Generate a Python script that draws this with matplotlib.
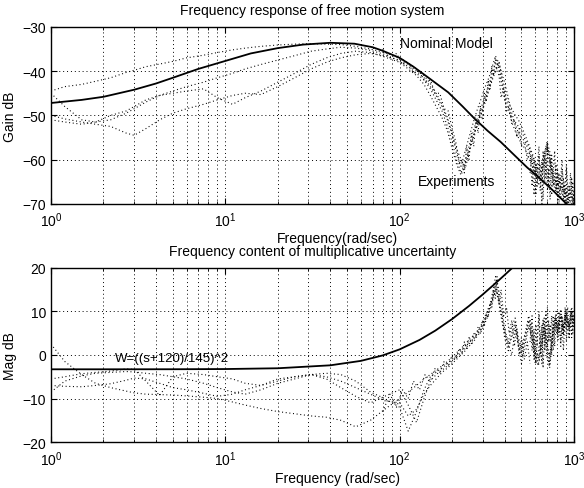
#!/usr/bin/env python

import numpy as np
import matplotlib
matplotlib.use('Agg')
import matplotlib.pyplot as plt
from matplotlib.ticker import LogLocator, NullFormatter

plt.rcParams['font.family'] = ['Liberation Sans', 'DejaVu Sans']
plt.rcParams['mathtext.fontset'] = 'custom'
plt.rcParams['mathtext.rm'] = 'Liberation Sans'
fs = 10

# frequency grid (rad/sec) shared by the measured traces
FREQ = [1.0, 1.2, 1.5, 1.8, 2.2, 2.7, 3.0, 3.5, 4.2, 5.0, 6.0, 7.5, 9.0, 11, 13, 16,
        20, 25, 31, 38, 46, 56, 68, 82,
        100, 112, 125, 138, 150, 162, 175, 188, 200, 212,
        225, 238, 250, 265, 280, 295, 310, 325, 340, 355,
        370, 385, 400, 420, 440, 460, 480, 500, 525, 550,
        575, 600, 625, 650, 675, 700, 725, 750, 780, 810,
        840, 870, 900, 935, 970, 1000]

# measured gain (dB), four experiments
GAIN_1 = [-44.5, -43.5, -43.0, -42.3, -41.5, -40.3, -39.8, -39.0, -38.4, -37.8, -37.0, -36.4,
          -35.8, -35.2, -34.8, -34.4, -34.1, -33.9, -33.8, -33.9, -34.0, -34.4, -35.0, -35.8,
          -37.0, -38.2, -39.5, -41.0, -42.8, -45.0, -47.5, -50.5, -54.0, -58.5,
          -61.5, -58.0, -55.0, -51.5, -48.5, -46.0, -43.5, -41.5, -39.0, -36.5,
          -39.5, -43.0, -46.5, -49.0, -50.5, -51.5, -52.5, -53.5, -55.5, -57.0,
          -59.0, -61.0, -63.5, -62.0, -60.0, -57.5, -60.5, -64.0, -67.0, -65.0,
          -68.5, -66.0, -69.5, -67.5, -70.0, -69.0]
GAIN_2 = [-45.0, -48.0, -51.0, -51.5, -51.0, -49.5, -48.5, -47.0, -45.5, -44.5, -43.5, -42.5,
          -41.5, -40.5, -39.5, -38.5, -37.5, -36.5, -35.5, -35.0, -34.6, -34.8, -35.3, -36.2,
          -37.8, -39.0, -40.5, -42.0, -44.0, -46.5, -49.0, -52.5, -56.0, -60.0,
          -63.0, -60.5, -57.0, -53.5, -50.5, -48.0, -45.5, -43.0, -40.5, -38.0,
          -37.5, -41.0, -44.5, -47.0, -48.5, -50.0, -51.0, -52.5, -54.5, -56.5,
          -58.5, -60.5, -62.5, -61.0, -58.5, -56.5, -59.5, -62.5, -65.5, -63.5,
          -66.5, -64.5, -68.0, -66.0, -69.0, -68.0]
GAIN_3 = [-50.0, -50.8, -51.5, -52.0, -52.5, -54.0, -54.5, -53.0, -51.0, -49.5, -48.5, -47.5,
          -46.5, -45.5, -45.0, -45.3, -43.5, -41.5, -39.5, -38.0, -37.0, -36.3, -36.0, -36.5,
          -37.5, -38.5, -40.0, -41.5, -43.5, -45.5, -48.0, -51.0, -54.5, -57.5,
          -60.0, -62.0, -58.5, -55.0, -51.5, -49.0, -46.5, -44.0, -41.5, -39.5,
          -38.0, -40.5, -42.5, -46.0, -49.5, -52.0, -54.0, -55.0, -56.0, -58.0,
          -60.5, -62.5, -64.5, -63.0, -59.0, -56.0, -58.0, -61.5, -64.5, -66.0,
          -64.0, -67.5, -66.5, -69.5, -68.0, -70.0]
GAIN_4 = [-51.0, -51.5, -52.0, -51.5, -50.0, -49.0, -48.0, -46.5, -45.5, -45.0, -44.5, -44.0,
          -46.0, -47.5, -46.0, -44.5, -42.5, -40.5, -38.5, -37.0, -36.0, -35.5, -35.8, -36.8,
          -38.0, -39.5, -41.0, -43.0, -45.5, -48.0, -50.5, -53.5, -57.5, -61.0,
          -63.5, -61.0, -58.0, -54.5, -52.0, -49.5, -47.0, -44.5, -42.0, -40.0,
          -38.5, -42.0, -45.5, -48.0, -51.5, -53.5, -55.0, -56.5, -57.5, -59.5,
          -61.5, -63.0, -65.5, -64.0, -60.5, -57.0, -59.0, -63.0, -66.0, -68.0,
          -66.0, -69.0, -67.5, -70.0, -69.0, -70.0]

# scattered samples around the resonance
RIDGE_F = [80, 88, 96, 104, 112, 120, 130, 140, 150, 160, 170, 180, 190, 200, 210, 220,
           228, 235, 242, 250, 258, 266, 274, 282, 290, 298, 306, 314, 322, 330, 338, 346,
           354, 362, 372, 382, 395, 410, 425, 440, 455, 470, 485, 500, 520, 540, 560]
GAIN_RIDGE = [-35, -37, -36, -38.5, -38, -40.5, -40, -42.5, -42, -45, -45, -48.5, -49, -53,
              -56, -61, -60, -63, -57, -60, -54, -57, -51, -54, -48, -51, -45, -47, -42, -44,
              -39, -41, -37, -40, -41, -46, -44, -49, -48, -52, -51, -55, -53, -57, -56, -60, -58]

# noisy high frequency samples
CLUSTER_F = [560, 575, 590, 605, 615, 630, 640, 655, 665, 680, 690, 705, 715, 730, 745, 760,
             775, 790, 805, 820, 840, 855, 870, 890, 905, 920, 940, 955, 970, 985, 1000]
GAIN_CLUSTER = [-58, -66, -60, -68, -62, -57, -67, -61, -69, -59, -64, -56, -66, -60, -68, -63,
                -58, -67, -62, -70, -64, -60, -69, -65, -62, -70, -66, -68, -64, -70, -67]
GAIN_CLUSTER_2 = [-63, -59, -68, -61, -66, -59, -63, -70, -58, -65, -60, -67, -62, -69, -59, -66,
                  -64, -61, -69, -63, -67, -62, -65, -70, -61, -66, -69, -63, -68, -65, -70]

# nominal model gain (dB)
NOM_FREQ = [1, 1.5, 2, 3, 4, 5, 7, 10, 14, 20, 28, 40, 55, 70, 80, 100, 120, 150, 190,
            230, 270, 320, 380, 450, 540, 620, 750, 880, 1000]
NOM_GAIN = [-47.2, -46.5, -45.8, -44.2, -42.8, -41.5, -39.5, -37.7, -36.0, -34.8, -34.0,
            -33.6, -33.8, -34.6, -35.4, -37.0, -39.0, -41.8, -44.8, -48.0, -50.8, -53.5,
            -56.0, -58.8, -61.8, -63.8, -66.8, -69.5, -71.5]

# multiplicative uncertainty (dB) for the same experiments
UNC_1 = [2.5, -1.5, -4.5, -6.5, -7.5, -8.3, -8.7, -9.0, -9.1, -9.2, -9.4, -9.7,
         -10.0, -10.8, -11.5, -12.3, -13.0, -13.5, -14.0, -14.3, -15.0, -16.5, -15.0, -12.5,
         -10.0, -8.5, -7.0, -5.5, -4.5, -3.5, -2.5, -1.5, -0.5, 0.5,
         1.5, 2.5, 3.5, 4.5, 5.5, 7.0, 8.5, 10.0, 13.0, 17.0,
         12.0, 9.0, 4.0, 1.0, 5.0, 7.5, 3.0, 0.5, 4.5, 8.0,
         5.0, 2.0, -1.0, 3.0, 6.5, 2.0, 0.0, 4.0, 8.5, 5.5,
         9.5, 6.0, 10.0, 7.0, 11.0, 8.0]
UNC_2 = [-5.5, -5.0, -4.3, -4.0, -3.7, -3.2, -3.3, -6.0, -9.3, -5.0, -4.2, -4.5,
         -5.0, -5.5, -6.5, -7.0, -6.0, -5.0, -4.5, -5.5, -7.5, -9.5, -11.0, -9.5,
         -8.0, -11.5, -15.5, -10.0, -6.0, -4.5, -3.5, -2.5, -1.5, -0.5,
         0.5, 1.5, 2.5, 3.5, 5.0, 6.0, 8.0, 10.5, 14.0, 18.0,
         15.0, 11.0, 6.0, 3.0, 6.5, 8.5, 4.0, 1.5, 5.0, 9.0,
         6.0, -1.0, -2.5, 2.0, 7.0, 3.0, -1.5, 5.0, 9.0, 6.5,
         10.5, 4.5, 9.0, 6.0, 10.0, 7.5]
UNC_3 = [-7.0, -7.2, -7.3, -7.0, -6.6, -5.8, -5.3, -5.5, -6.5, -7.5, -8.0, -8.8,
         -9.5, -9.0, -8.0, -7.0, -5.5, -5.0, -4.5, -5.0, -6.0, -7.5, -9.0, -10.5,
         -11.0, -14.0, -12.5, -9.0, -7.0, -5.5, -4.0, -3.0, -2.0, -1.0,
         0.0, 1.0, 2.0, 3.0, 4.5, 5.5, 7.5, 9.5, 12.0, 15.0,
         12.5, 8.0, 5.0, 2.0, 4.0, 7.0, 2.5, -0.5, 3.5, 7.5,
         3.5, -2.0, 1.0, 5.5, 8.5, 1.0, -3.0, 2.5, 7.0, 3.5,
         8.5, 5.0, 9.5, 4.0, 9.0, 6.0]
UNC_4 = [-8.5, -6.0, -4.8, -4.2, -4.0, -3.8, -3.9, -4.2, -4.5, -5.0, -5.5, -6.5,
         -7.5, -8.5, -9.0, -8.0, -6.5, -5.5, -4.5, -4.2, -4.5, -6.0, -8.5, -10.0,
         -12.0, -17.5, -13.0, -8.0, -5.0, -4.0, -3.0, -2.0, -1.0, 0.0,
         1.0, 2.0, 3.0, 4.0, 5.0, 6.5, 9.0, 11.0, 12.5, 16.0,
         13.0, 9.5, 5.5, 2.5, 0.0, 6.0, 2.0, -2.0, 2.5, 6.5,
         4.0, 0.5, -2.0, 1.5, 5.5, -0.5, -2.5, 3.5, 8.0, 5.0,
         9.0, 7.0, 10.5, 6.5, 8.0, 9.5]
UNC_RIDGE = [-13, -9, -12, -8, -10, -6, -8, -4.5, -6, -3, -4, -1.5, -2.5, 0, -1, 1.5,
             0.5, 3, 1.5, 4, 2.5, 5, 4, 6.5, 5, 8, 6.5, 9.5, 8.5, 12, 11, 15,
             13, 18, 12, 15, 9, 11, 5, 8, 2, 6, 0, 4, -1, 3, -2]
UNC_CLUSTER = [8, 1, 6, -2, 4, 9, 0, 7, -3, 5, 10, 2, 8, 3, 9, 1,
               6, 10, 4, 8, 2, 9, 5, 11, 3, 8, 6, 10, 4, 9, 7]
UNC_CLUSTER_2 = [3, 9, -1, 7, 2, 10, 4, -2, 8, 1, 6, 11, 3, 7, 0, 9,
                 2, 8, 5, 10, 3, 7, 1, 9, 6, 11, 4, 8, 10, 5, 9]

# weight W(s) = ((s + W_ZERO) / W_GAIN)^2
W_ZERO = 120.0
W_GAIN = 145.0
W_FREQ = [1, 2, 5, 10, 20, 40, 60, 80, 100, 130, 160, 200, 250, 300, 350, 400, 440, 480]

DOTS = (0, (0.9, 2.4))


def style_axes(ax, ylim, yticks):
    ax.set_xscale('log')
    ax.set_xlim(1, 1000)
    ax.set_ylim(*ylim)
    ax.set_yticks(yticks)
    ax.xaxis.set_minor_locator(LogLocator(base=10, subs=np.arange(2, 10)))
    ax.xaxis.set_minor_formatter(NullFormatter())
    ax.grid(True, which='both', axis='x', color='k', linestyle=(0, (1, 3)), linewidth=0.7)
    ax.grid(True, which='major', axis='y', color='k', linestyle=(0, (1, 3)), linewidth=0.7)
    ax.tick_params(which='both', direction='in', top=True, right=True, labelsize=fs)
    ax.tick_params(which='major', length=4)
    ax.tick_params(which='minor', length=2)
    ax.tick_params(axis='x', pad=5)
    for sp in ax.spines.values():
        sp.set_linewidth(1.0)


def plot_traces(ax, freq, series, **kw):
    for s in series:
        ax.plot(freq, s, color='k', linestyle=DOTS, linewidth=0.8, **kw)


def main():
    fig = plt.figure(figsize=(5.84, 4.89), dpi=100)
    ax1 = fig.add_axes([0.0873, 0.581, 0.8955, 0.362])
    ax2 = fig.add_axes([0.0873, 0.094, 0.8955, 0.356])

    # gain plot
    plot_traces(ax1, FREQ, [GAIN_1, GAIN_2, GAIN_3, GAIN_4])
    plot_traces(ax1, RIDGE_F, [GAIN_RIDGE])
    plot_traces(ax1, CLUSTER_F, [GAIN_CLUSTER, GAIN_CLUSTER_2])
    ax1.plot(NOM_FREQ, NOM_GAIN, color='k', linewidth=1.3)
    style_axes(ax1, (-70, -30), [-70, -60, -50, -40, -30])
    ax1.text(100, -33.6, 'Nominal Model', fontsize=fs, va='center', ha='left')
    ax1.text(128, -64.8, 'Experiments', fontsize=fs, va='center', ha='left')
    ax1.set_title('Frequency response of free motion system', fontsize=fs, pad=9)
    ax1.set_xlabel('Frequency(rad/sec)', fontsize=fs)
    ax1.xaxis.set_label_coords(0.547, -0.155)
    ax1.set_ylabel('Gain dB', fontsize=fs)

    # uncertainty plot
    plot_traces(ax2, FREQ, [UNC_1, UNC_2, UNC_3, UNC_4])
    plot_traces(ax2, RIDGE_F, [UNC_RIDGE])
    plot_traces(ax2, CLUSTER_F, [UNC_CLUSTER, UNC_CLUSTER_2])
    w = np.array(W_FREQ, dtype=float)
    w_db = 40 * np.log10(np.sqrt(w ** 2 + W_ZERO ** 2) / W_GAIN)
    ax2.plot(w, w_db, color='k', linewidth=1.3)
    style_axes(ax2, (-20, 20), [-20, -10, 0, 10, 20])
    ax2.text(2.33, -0.6, 'W=((s+120)/145)^2', fontsize=fs - 0.5, va='center', ha='left')
    ax2.set_title('Frequency content of multiplicative uncertainty', fontsize=fs, pad=9)
    ax2.set_xlabel('Frequency (rad/sec)', fontsize=fs)
    ax2.xaxis.set_label_coords(0.547, -0.168)
    ax2.set_ylabel('Mag dB', fontsize=fs)

    fig.savefig('out.png', dpi=100)
    plt.close(fig)


if __name__ == "__main__":
    main()
